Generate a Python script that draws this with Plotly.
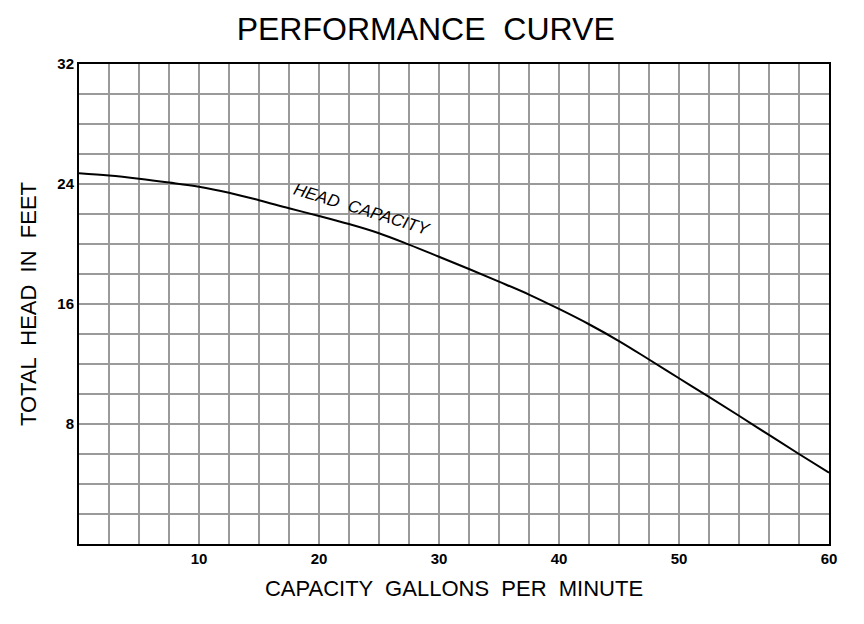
import plotly.graph_objects as go

# Curve data (x in axis grid units, y in feet)
capacity = [0, 2.5, 5, 7.5, 10, 12.5, 15, 17.5, 20, 22.5, 25, 27.5, 30, 32.5,
            35, 37.5, 40, 42.5, 45, 47.5, 50, 52.5, 55, 57.5, 60, 62.5]
head = [24.71, 24.56, 24.35, 24.1, 23.82, 23.42, 22.92, 22.38, 21.87, 21.33,
        20.72, 19.96, 19.15, 18.33, 17.49, 16.63, 15.67, 14.65, 13.53, 12.3,
        11.05, 9.81, 8.55, 7.27, 6.0, 4.75]

x_grid = [i * 2.5 for i in range(26)]
x_labels = {10: "10", 20: "20", 30: "30", 40: "40", 50: "50", 62.5: "60"}
y_grid = list(range(0, 33, 2))
y_labels = {8: "8", 16: "16", 24: "24", 32: "32"}

fig = go.Figure()
fig.add_trace(go.Scatter(x=capacity, y=head, mode="lines",
                         line=dict(color="black", width=2, shape="spline", smoothing=1.0),
                         hoverinfo="skip", showlegend=False))

fig.add_annotation(x=23.6, y=22.3, text="<i>HEAD  CAPACITY</i>", showarrow=False,
                   textangle=17, font=dict(family="Liberation Sans", size=17, color="black"))

fig.update_layout(
    width=856, height=616,
    margin=dict(l=71, r=35, t=56, b=80),
    paper_bgcolor="white", plot_bgcolor="white",
    title=dict(text="PERFORMANCE  CURVE", x=0.488, xanchor="center", y=0.967, yanchor="middle",
               font=dict(family="Liberation Sans", size=32, color="black")),
    xaxis=dict(range=[0, 62.5], tickvals=x_grid, automargin=False,
               ticktext=[x_labels.get(v, "") for v in x_grid],
               showgrid=True, gridcolor="#9a9a9a", gridwidth=2,
               showline=True, linecolor="black", linewidth=2, mirror=True,
               ticks="", zeroline=False,
               tickfont=dict(family="Liberation Sans", size=15, color="black", weight="bold"),
               title=dict(text="CAPACITY  GALLONS  PER  MINUTE",
                          font=dict(family="Liberation Sans", size=22, color="black"))),
    yaxis=dict(range=[0, 32], tickvals=y_grid, automargin=False,
               ticktext=[y_labels.get(v, "") for v in y_grid],
               showgrid=True, gridcolor="#9a9a9a", gridwidth=2,
               showline=True, linecolor="black", linewidth=2, mirror=True,
               ticks="", zeroline=False,
               tickfont=dict(family="Liberation Sans", size=15, color="black", weight="bold"),
               title=dict(text="TOTAL  HEAD  IN  FEET",
                          font=dict(family="Liberation Sans", size=22, color="black"))),
)

fig.write_html("out.html")
